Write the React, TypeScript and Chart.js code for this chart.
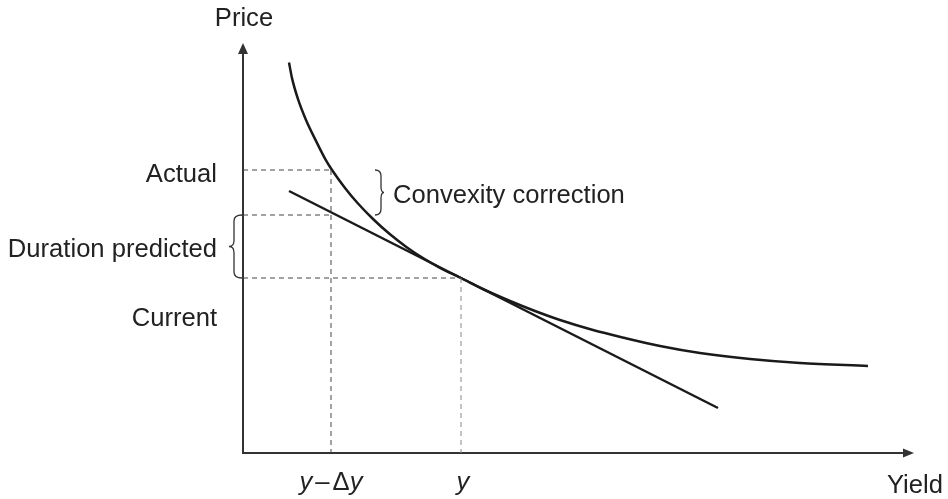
import { useEffect, useRef } from "react";
import { Chart, registerables } from "chart.js";

Chart.register(...registerables);

// Yield (x) and price (y) in the chart's own units (origin at the axes' corner)
const curveYield = [46, 49, 55, 63, 73, 83, 89, 102, 115, 130, 147, 164, 182, 197, 218, 242, 267, 292, 317, 350, 382, 417, 457, 507, 557, 625];
const curvePrice = [390.5, 374.9, 353.9, 333.1, 312.1, 292.6, 283, 265.1, 249.5, 234, 218.7, 205.6, 193.7, 185.2, 175, 163, 152, 142, 133, 123, 115, 107, 100, 94, 90, 87];
const tangentYield = [46, 475];
const tangentPrice = [262, 45];

const yieldShifted = 88; // y − Δy
const yieldCurrent = 218; // y
const priceActual = 283;
const priceDuration = 238;
const priceCurrent = 175;

const yieldMax = 671;
const priceMax = 410;

const FONT = '"Liberation Sans", Arial, Helvetica, sans-serif';
const SIZE = 25.6;
const INK = "#222";

function drawBrace(ctx: CanvasRenderingContext2D, x: number, y1: number, y2: number, w: number, t: number) {
  const mid = (y1 + y2) / 2;
  const r = 6;
  ctx.beginPath();
  ctx.moveTo(x, y1);
  ctx.quadraticCurveTo(x + w, y1, x + w, y1 + r);
  ctx.lineTo(x + w, mid - r);
  ctx.quadraticCurveTo(x + w, mid, x + w + t, mid);
  ctx.quadraticCurveTo(x + w, mid, x + w, mid + r);
  ctx.lineTo(x + w, y2 - r);
  ctx.quadraticCurveTo(x + w, y2, x, y2);
  ctx.stroke();
}

const decorPlugin = {
  id: "decor",
  beforeDatasetsDraw(chart: any) {
    const { ctx, chartArea } = chart;
    const { left, right, top, bottom } = chartArea;
    ctx.save();
    ctx.strokeStyle = "#333";
    ctx.fillStyle = "#333";
    ctx.lineWidth = 2;
    // y axis
    ctx.beginPath();
    ctx.moveTo(left, bottom + 1);
    ctx.lineTo(left, top + 10);
    ctx.stroke();
    ctx.beginPath();
    ctx.moveTo(left, top);
    ctx.lineTo(left - 5, top + 11);
    ctx.lineTo(left + 5, top + 11);
    ctx.closePath();
    ctx.fill();
    // x axis
    ctx.beginPath();
    ctx.moveTo(left - 1, bottom);
    ctx.lineTo(right - 10, bottom);
    ctx.stroke();
    ctx.beginPath();
    ctx.moveTo(right, bottom);
    ctx.lineTo(right - 11, bottom - 4.5);
    ctx.lineTo(right - 11, bottom + 4.5);
    ctx.closePath();
    ctx.fill();
    ctx.restore();
  },
  afterDatasetsDraw(chart: any) {
    const { ctx, chartArea, scales } = chart;
    const xs = scales.x;
    const ys = scales.y;
    const { left, right } = chartArea;
    ctx.save();
    ctx.fillStyle = INK;
    ctx.strokeStyle = "#333";
    ctx.lineWidth = 1.3;

    const yAct = ys.getPixelForValue(priceActual);
    const yDur = ys.getPixelForValue(priceDuration);
    const yCur = ys.getPixelForValue(priceCurrent);

    // braces
    drawBrace(ctx, xs.getPixelForValue(yieldShifted) + 44, yAct, yDur, 6, 3);
    drawBrace(ctx, left - 1, yDur, yCur, -8, -5);

    ctx.font = `${SIZE}px ${FONT}`;
    ctx.textBaseline = "alphabetic";
    // axis titles
    ctx.textAlign = "center";
    ctx.fillText("Price", left + 1, 26);
    ctx.textAlign = "left";
    ctx.fillText("Yield", right - 27, 493);

    // price labels
    ctx.textAlign = "right";
    ctx.fillText("Actual", left - 26, yAct + 12);
    ctx.fillText("Duration predicted", left - 26, (yDur + yCur) / 2 + 10);
    ctx.fillText("Current", left - 26, yCur + 48);

    ctx.textAlign = "left";
    ctx.fillText("Convexity correction", xs.getPixelForValue(yieldShifted) + 62, (yAct + yDur) / 2 + 10);

    // yield labels
    const base = 490;
    const italic = `italic ${SIZE}px ${FONT}`;
    const normal = `${SIZE}px ${FONT}`;
    const parts: [string, string, number][] = [
      ["y", italic, 3],
      ["–", normal, 3],
      ["Δ", normal, 0],
      ["y", italic, 0],
    ];
    let total = 0;
    for (const [s, f, g] of parts) {
      ctx.font = f;
      total += ctx.measureText(s).width + g;
    }
    let cx = xs.getPixelForValue(yieldShifted) - total / 2;
    for (const [s, f, g] of parts) {
      ctx.font = f;
      ctx.fillText(s, cx, base);
      cx += ctx.measureText(s).width + g;
    }
    ctx.font = italic;
    ctx.textAlign = "center";
    ctx.fillText("y", xs.getPixelForValue(yieldCurrent) + 2, base);
    ctx.restore();
  },
};

export default function App() {
  const ref = useRef<HTMLCanvasElement | null>(null);
  useEffect(() => {
    document.body.style.margin = "0";
    const canvas = ref.current;
    if (!canvas) return;
    const pts = (xv: number[], yv: number[]) => xv.map((x, i) => ({ x, y: yv[i] }));
    const dashed = (data: { x: number; y: number }[], color: string) => ({
      data,
      borderColor: color,
      borderWidth: 1,
      borderDash: [5, 4],
      pointRadius: 0,
      fill: false,
      tension: 0,
    });
    const chart = new Chart(canvas, {
      type: "line",
      data: {
        datasets: [
          dashed(pts([0, yieldShifted], [priceActual, priceActual]), "#444"),
          dashed(pts([0, yieldShifted], [priceDuration, priceDuration]), "#444"),
          dashed(pts([0, yieldCurrent], [priceCurrent, priceCurrent]), "#444"),
          dashed(pts([yieldShifted, yieldShifted], [priceActual, 0]), "#444"),
          dashed(pts([yieldCurrent, yieldCurrent], [priceCurrent, 0]), "#888"),
          {
            data: pts(tangentYield, tangentPrice),
            borderColor: "#1a1a1a",
            borderWidth: 2.5,
            pointRadius: 0,
            fill: false,
            tension: 0,
          },
          {
            data: pts(curveYield, curvePrice),
            borderColor: "#1a1a1a",
            borderWidth: 2.5,
            pointRadius: 0,
            fill: false,
            cubicInterpolationMode: "monotone",
          },
        ] as any,
      },
      options: {
        animation: false,
        responsive: true,
        maintainAspectRatio: false,
        layout: { padding: { left: 243, right: 34, top: 43, bottom: 46 } },
        scales: {
          x: { type: "linear", min: 0, max: yieldMax, display: false },
          y: { type: "linear", min: 0, max: priceMax, display: false },
        },
        plugins: { legend: { display: false }, tooltip: { enabled: false } },
      } as any,
      plugins: [decorPlugin],
    });
    return () => chart.destroy();
  }, []);
  return (
    <div style={{ width: 948, height: 499, position: "relative", background: "#fff" }}>
      <canvas ref={ref} />
    </div>
  );
}
